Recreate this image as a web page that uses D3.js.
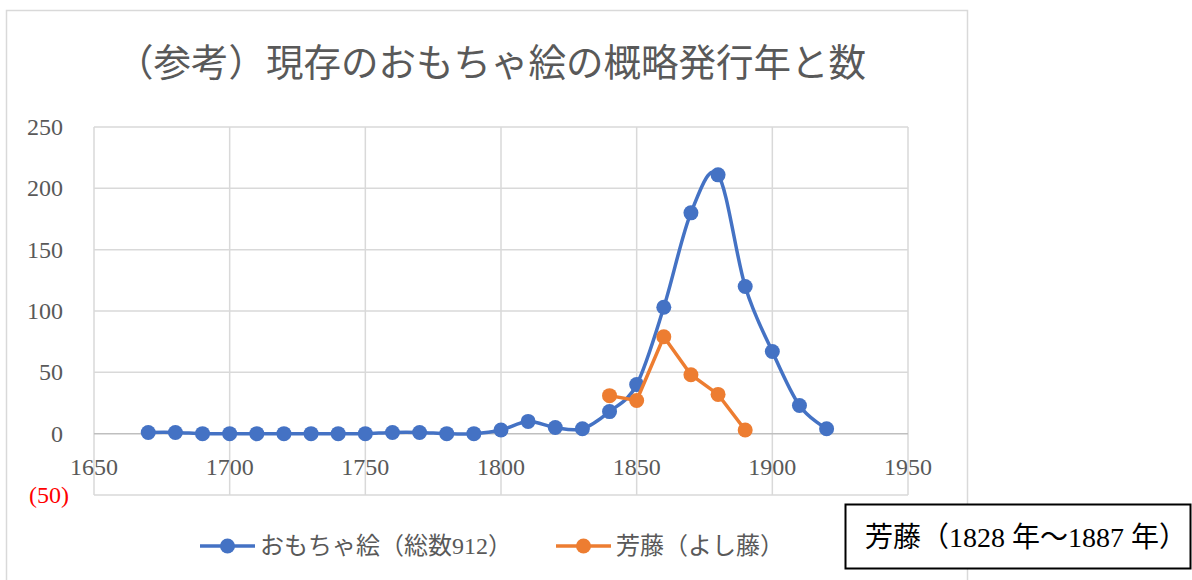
<!DOCTYPE html>
<html>
<head>
<meta charset="utf-8">
<script src="https://d3js.org/d3.v7.min.js"></script>
<style>
 body { margin: 0; background: #fff; }
 svg text { font-family: "Liberation Serif", "DejaVu Serif", "Noto Sans CJK JP", serif; }
</style>
</head>
<body>
<svg id="chart" width="1192" height="580"></svg>
<script>
 // data
 var years = [1670,1680,1690,1700,1710,1720,1730,1740,1750,1760,1770,1780,1790,
              1800,1810,1820,1830,1840,1850,1860,1870,1880,1890,1900,1910,1920];
 var omochaCounts = [1,1,0,0,0,0,0,0,0,1,1,0,0,3,10,5,4,18,40,103,180,211,120,67,23,4];
 var yoshifujiYears = [1840,1850,1860,1870,1880,1890];
 var yoshifujiCounts = [31,27,79,48,32,3];
 var xTicks = [1650,1700,1750,1800,1850,1900,1950];
 var yTicks = [-50,0,50,100,150,200,250];
 var seriesNames = ["おもちゃ絵（総数912）", "芳藤（よし藤）"];
 var titleText = "（参考）現存のおもちゃ絵の概略発行年と数";
 var noteText = "芳藤（1828 年〜1887 年）";

 var blue = "#4472c4", orange = "#ed7d31", grid = "#d9d9d9", label = "#595959";

 var svg = d3.select("#chart");

 // chart frame
 svg.append("rect").attr("x", 6.5).attr("y", 10.5).attr("width", 961).attr("height", 600)
    .attr("fill", "#fff").attr("stroke", grid).attr("stroke-width", 1.5);

 var x = d3.scaleLinear().domain([1650, 1950]).range([94, 908]);
 var y = d3.scaleLinear().domain([-50, 250]).range([495, 127]);

 // title
 svg.append("text").attr("x", 491).attr("y", 76).attr("text-anchor", "middle")
    .attr("font-size", "37.5px").attr("fill", label).text(titleText);

 // gridlines
 var g = svg.append("g");
 g.selectAll(".vgrid").data(xTicks).enter().append("line")
    .attr("x1", d => x(d)).attr("x2", d => x(d)).attr("y1", y(250)).attr("y2", y(-50))
    .attr("stroke", grid).attr("stroke-width", 1.5);
 g.selectAll(".hgrid").data(yTicks).enter().append("line")
    .attr("x1", x(1650)).attr("x2", x(1950)).attr("y1", d => y(d)).attr("y2", d => y(d))
    .attr("stroke", d => d === 0 ? "#bfbfbf" : grid).attr("stroke-width", 1.5);

 // y tick labels (negative in red with parentheses, like the spreadsheet format)
 g.selectAll(".ylab").data(yTicks).enter().append("text")
    .attr("x", d => d < 0 ? 69 : 63).attr("y", d => y(d) + 8).attr("text-anchor", "end")
    .attr("font-size", "24px")
    .attr("fill", d => d < 0 ? "#ff0000" : label)
    .text(d => d < 0 ? "(" + Math.abs(d) + ")" : d);

 // x tick labels, sitting under the zero line
 g.selectAll(".xlab").data(xTicks).enter().append("text")
    .attr("x", d => x(d)).attr("y", y(0) + 41).attr("text-anchor", "middle")
    .attr("font-size", "24px").attr("fill", label).text(d => d);

 var smooth = d3.line().x(d => x(d[0])).y(d => y(d[1])).curve(d3.curveCatmullRom.alpha(0));
 var straight = d3.line().x(d => x(d[0])).y(d => y(d[1]));

 var omocha = d3.zip(years, omochaCounts);
 var yoshi = d3.zip(yoshifujiYears, yoshifujiCounts);

 g.append("path").attr("d", smooth(omocha)).attr("fill", "none")
    .attr("stroke", blue).attr("stroke-width", 3.5);
 g.selectAll(".bdot").data(omocha).enter().append("circle")
    .attr("cx", d => x(d[0])).attr("cy", d => y(d[1])).attr("r", 7.5).attr("fill", blue);

 g.append("path").attr("d", straight(yoshi)).attr("fill", "none")
    .attr("stroke", orange).attr("stroke-width", 3.5);
 g.selectAll(".odot").data(yoshi).enter().append("circle")
    .attr("cx", d => x(d[0])).attr("cy", d => y(d[1])).attr("r", 7.5).attr("fill", orange);

 // legend
 var legend = svg.append("g");
 var legendItems = [{ name: seriesNames[0], color: blue, x: 200 },
                    { name: seriesNames[1], color: orange, x: 556 }];
 legendItems.forEach(function (it) {
     legend.append("line").attr("x1", it.x).attr("x2", it.x + 55).attr("y1", 546).attr("y2", 546)
        .attr("stroke", it.color).attr("stroke-width", 3.5);
     legend.append("circle").attr("cx", it.x + 27.5).attr("cy", 546).attr("r", 7.5).attr("fill", it.color);
     legend.append("text").attr("x", it.x + 60).attr("y", 554).attr("font-size", "24px")
        .attr("fill", label).text(it.name);
 });

 // note box
 svg.append("rect").attr("x", 845.5).attr("y", 504.5).attr("width", 345).attr("height", 64)
    .attr("fill", "#fff").attr("stroke", "#000").attr("stroke-width", 2);
 svg.append("text").attr("x", 865).attr("y", 547).attr("font-size", "28px")
    .attr("fill", "#000").text(noteText);
</script>
</body>
</html>
